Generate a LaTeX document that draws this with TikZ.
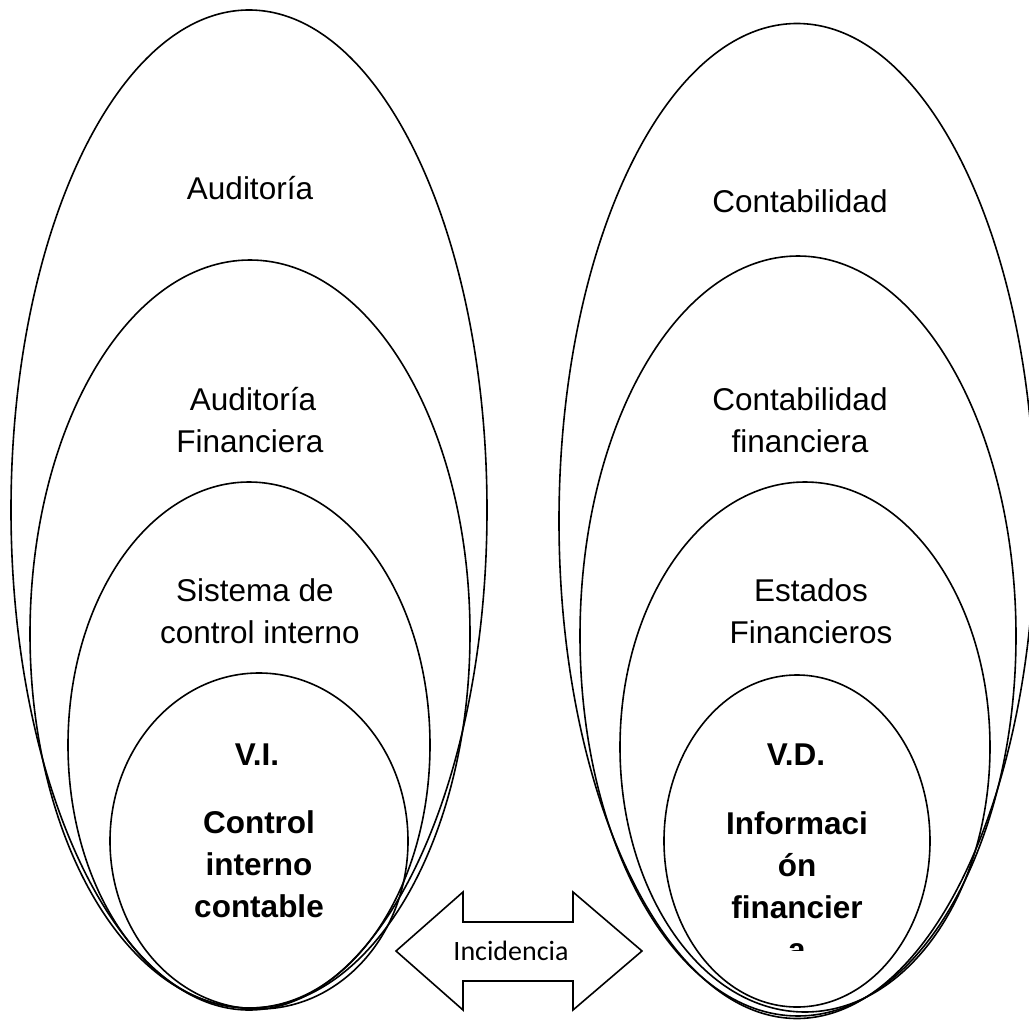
\documentclass[tikz,border=0pt]{standalone}
\usepackage{fontspec}
\setmainfont{Liberation Sans}
\newfontfamily\calib{Carlito}
\usetikzlibrary{shapes.geometric}
\begin{document}
\begin{tikzpicture}[x=1pt,y=-1pt,
  ring/.style={ellipse,draw=black,line width=1.6pt,inner sep=0pt,outer sep=0pt},
  lbl/.style={anchor=base,inner sep=0pt,font=\fontsize{31.5}{38}\selectfont},
  blbl/.style={anchor=base,inner sep=0pt,font=\bfseries\fontsize{31.5}{38}\selectfont}]
\useasboundingbox (0,0) rectangle (1029,1020);

% left family of nested ellipses
\node[ring,minimum width=476pt,minimum height=1000pt] (aud)   at (249,510) {};
\node[ring,minimum width=440pt,minimum height=748pt]  (audf)  at (250,634) {};
\node[ring,minimum width=362pt,minimum height=526pt]  (sci)   at (249,745) {};
\node[ring,minimum width=298pt,minimum height=336pt]  (cic)   at (259,841) {};

% right family of nested ellipses
\node[ring,minimum width=476pt,minimum height=995pt]  (cont)  at (797,521) {};
\node[ring,minimum width=436pt,minimum height=760pt]  (contf) at (798,636) {};
\node[ring,minimum width=370pt,minimum height=530pt]  (ef)    at (805,747) {};
\node[ring,minimum width=266pt,minimum height=332pt]  (inf)   at (797,841) {};

% left labels
\node[lbl] (t1)  at (250,199) {Auditoría};
\node[lbl] (t2a) at (253,410) {Auditoría};
\node[lbl] (t2b) at (250,452) {Financiera};
\node[lbl] (t3a) at (255,601) {Sistema de};
\node[lbl] (t3b) at (260,643) {control interno};
\node[blbl] (t4a) at (257,765) {V.I.};
\node[blbl] (t4b) at (259,833) {Control};
\node[blbl] (t4c) at (259,875) {interno};
\node[blbl] (t4d) at (259,917) {contable};

% right labels
\node[lbl] (u1)  at (800,212) {Contabilidad};
\node[lbl] (u2a) at (800,410) {Contabilidad};
\node[lbl] (u2b) at (800,452) {financiera};
\node[lbl] (u3a) at (811,601) {Estados};
\node[lbl] (u3b) at (811,643) {Financieros};
\node[blbl] (u4a) at (796,765) {V.D.};
\node[blbl] (u4b) at (797,834) {Informaci};
\node[blbl] (u4c) at (797,876) {ón};
\node[blbl] (u4d) at (797,918) {financier};
\begin{scope}
  \clip (660,930) rectangle (935,950);
  \node[blbl] (u4e) at (797,960) {a};
\end{scope}

% double-headed block arrow
\draw[line width=1.6pt,line join=miter,fill=white]
  (396,951) -- (463,892) -- (463,922) -- (573,922) -- (573,892) -- (642,951)
  -- (573,1010) -- (573,981) -- (463,981) -- (463,1010) -- cycle;
\node[anchor=base,inner sep=0pt,font=\calib\fontsize{28}{34}\selectfont] (inc) at (511,960) {Incidencia};
\end{tikzpicture}
\end{document}
